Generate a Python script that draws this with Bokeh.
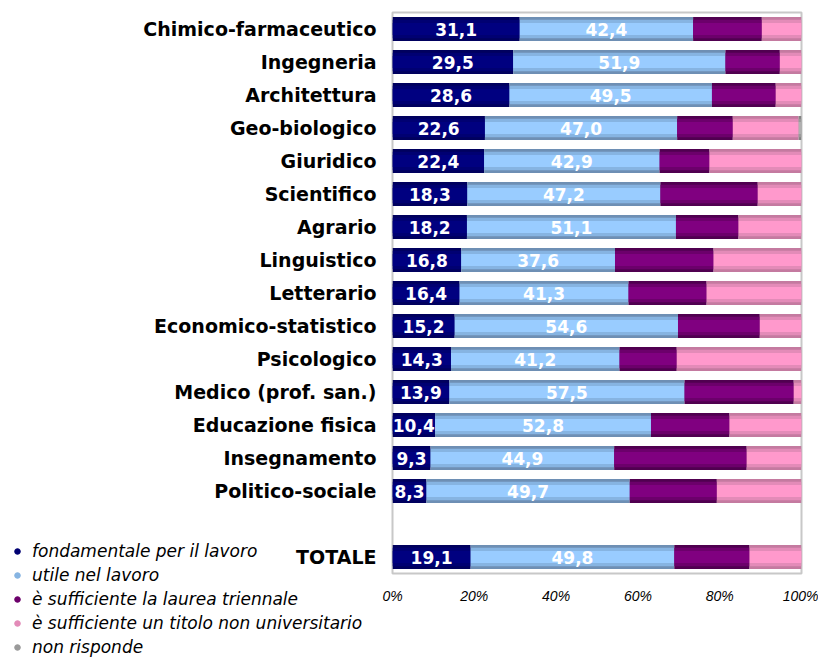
from bokeh.plotting import figure
from bokeh.models import (ColumnDataSource, FactorRange, Range1d, FixedTicker, Legend,
                          LegendItem, GridBox)
from bokeh.embed import file_html
from bokeh.resources import INLINE
from bokeh.core.properties import value

# ---------------- data ----------------
categories = ["Chimico-farmaceutico", "Ingegneria", "Architettura", "Geo-biologico",
              "Giuridico", "Scientifico", "Agrario", "Linguistico", "Letterario",
              "Economico-statistico", "Psicologico", "Medico (prof. san.)",
              "Educazione fisica", "Insegnamento", "Politico-sociale", "TOTALE"]
fondamentale = [31.1, 29.5, 28.6, 22.6, 22.4, 18.3, 18.2, 16.8, 16.4, 15.2, 14.3, 13.9, 10.4, 9.3, 8.3, 19.1]
utile = [42.4, 51.9, 49.5, 47.0, 42.9, 47.2, 51.1, 37.6, 41.3, 54.6, 41.2, 57.5, 52.8, 44.9, 49.7, 49.8]
triennale = [16.8, 13.3, 15.6, 13.6, 12.2, 23.8, 15.3, 24.1, 19.1, 20.0, 14.0, 26.7, 19.2, 32.4, 21.3, 18.4]
non_universitario = [9.7, 5.3, 6.3, 16.1, 22.5, 10.7, 15.4, 21.5, 23.2, 10.2, 30.5, 1.9, 17.6, 13.4, 20.7, 12.7]
non_risponde = [0.0, 0.0, 0.0, 0.7, 0.0, 0.0, 0.0, 0.0, 0.0, 0.0, 0.0, 0.0, 0.0, 0.0, 0.0, 0.0]

series_keys = ["fondamentale", "utile", "triennale", "non_universitario", "non_risponde"]
series_names = ["fondamentale per il lavoro", "utile nel lavoro",
                "è sufficiente la laurea triennale",
                "è sufficiente un titolo non universitario", "non risponde"]
colors = ["#000080", "#99CCFF", "#800080", "#FF99CC", "#B0B0B0"]
colors_mid = ["#000072", "#86B4E2", "#6C006B", "#E38BB8", "#9A9A9A"]
colors_edge = ["#00005E", "#6E8FB4", "#500050", "#C47AA0", "#828282"]

x_ticks = [0, 20, 40, 60, 80, 100]
x_tick_labels = ["0%", "20%", "40%", "60%", "80%", "100%"]

# ---------------- main figure ----------------
spacer = " "
factors = ["TOTALE", spacer] + categories[:-1][::-1]

src = ColumnDataSource(dict(cat=categories, fondamentale=fondamentale, utile=utile,
                            triennale=triennale, non_universitario=non_universitario,
                            non_risponde=non_risponde))

p = figure(y_range=FactorRange(factors=factors, range_padding=0),
           x_range=Range1d(0, 100),
           frame_width=409, frame_height=561,
           min_border_left=392, min_border_right=17, min_border_top=12, min_border_bottom=86,
           output_backend="svg", toolbar_location=None, frame_align=False, align="start")

# shaded bars: three layers give a cylinder-like gradient
for cols, h in ((colors_edge, 0.73), (colors_mid, 0.56), (colors, 0.36)):
    p.hbar_stack(series_keys, y="cat", height=h, color=cols, line_color=None, source=src)

# value labels for the first two series
lab_x, lab_y, lab_t = [], [], []
for c, a, b in zip(categories, fondamentale, utile):
    lab_x += [a / 2, a + b / 2]
    lab_y += [c, c]
    lab_t += [f"{a:.1f}".replace(".", ","), f"{b:.1f}".replace(".", ",")]
p.text(x=lab_x, y=lab_y, text=lab_t, text_color="white", text_align="center",
       text_baseline="middle", text_font=value("DejaVu Sans"), text_font_style="bold",
       text_font_size="17px")

# axes
p.xaxis.ticker = FixedTicker(ticks=x_ticks)
p.xaxis.major_label_overrides = {t: l for t, l in zip(x_ticks, x_tick_labels)}
p.xaxis.major_label_text_font = "Liberation Sans"
p.xaxis.major_label_text_font_style = "italic"
p.xaxis.major_label_text_font_size = "14px"
p.xaxis.major_label_text_color = "black"
p.xaxis.major_label_standoff = 14
p.xaxis.major_tick_out = 0
p.xaxis.major_tick_in = 0
p.xaxis.axis_line_color = None
p.xaxis.major_tick_line_color = None
p.xaxis.minor_tick_line_color = None

p.yaxis.major_label_text_font = "DejaVu Sans"
p.yaxis.major_label_text_font_style = "bold"
p.yaxis.major_label_text_font_size = "19px"
p.yaxis.major_label_text_color = "black"
p.yaxis.major_label_standoff = 16
p.yaxis.major_tick_out = 0
p.yaxis.major_tick_in = 0
p.yaxis.axis_line_color = None
p.yaxis.major_tick_line_color = None

p.xgrid.grid_line_color = None
p.ygrid.grid_line_color = None
p.outline_line_color = "#C8C8C8"
p.outline_line_width = 2

# ---------------- legend (transparent figure overlaid at the bottom-left) ----------------
lg = figure(width=390, height=120, min_border=0, x_range=Range1d(0, 1), y_range=Range1d(0, 1),
            x_axis_type=None, y_axis_type=None, output_backend="svg", toolbar_location=None,
            sizing_mode="fixed", align="start", frame_align=False)
lg.background_fill_color = None
lg.border_fill_color = None
lg.outline_line_color = None
lg.xgrid.grid_line_color = None
lg.ygrid.grid_line_color = None

items = []
for name, col in zip(series_names, colors_mid):
    r = lg.scatter(x=[-5], y=[-5], marker="circle", size=10, fill_color=col, line_color=col)
    items.append(LegendItem(label=name, renderers=[r]))

legend = Legend(items=items, location=(10, 0), orientation="vertical",
                label_text_font="DejaVu Sans", label_text_font_style="italic",
                label_text_font_size="17px", label_text_color="black",
                glyph_width=14, glyph_height=24, label_height=24, label_standoff=8,
                spacing=0, padding=0, margin=0,
                background_fill_alpha=0, border_line_color=None)
lg.add_layout(legend, "center")

layout = GridBox(children=[(p, 0, 0, 2, 1), (lg, 1, 0, 1, 1)],
                 rows=["539px", "120px"], cols=["818px"], spacing=0)
open("out.html", "w").write(file_html(layout, INLINE))
